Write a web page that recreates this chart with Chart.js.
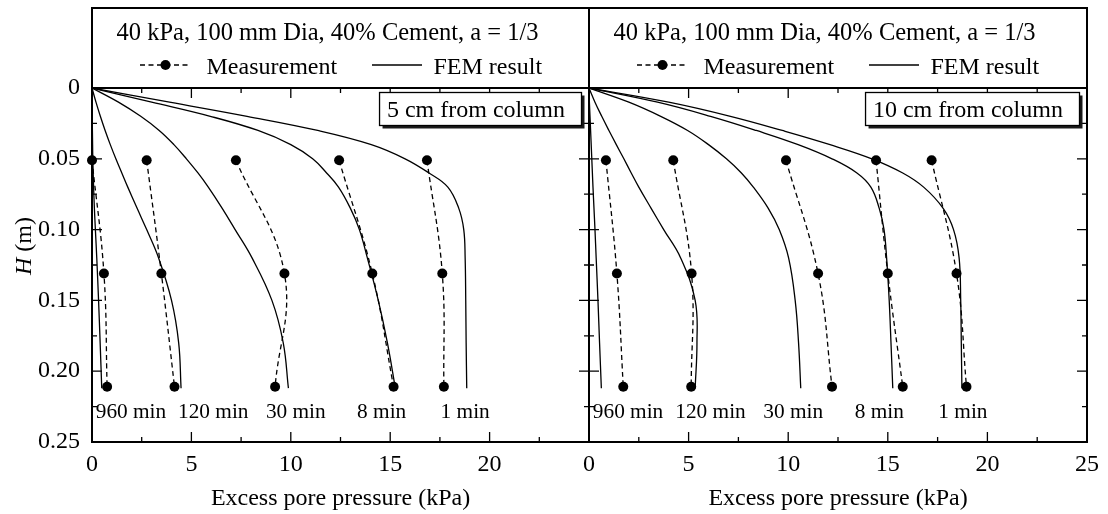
<!DOCTYPE html>
<html>
<head>
<meta charset="utf-8">
<title>Excess pore pressure profiles</title>
<script src="https://cdn.jsdelivr.net/npm/chart.js@4.4.1/dist/chart.umd.min.js"></script>
<style>
  body { margin: 0; background: #fff; }
  #wrap { position: relative; width: 1108px; height: 514px; }
  #wrap canvas { position: absolute; left: 0; top: 0; }
</style>
</head>
<body>
<div id="wrap">
  <canvas id="chart5" width="1108" height="514"></canvas>
  <canvas id="chart10" width="1108" height="514"></canvas>
</div>
<script>
// depths (m) of the three pore pressure gauges
var gaugeDepth = [0.051, 0.131, 0.211];
// depths (m) where the FEM profiles are listed
var femDepth = [0, 0.01, 0.02, 0.03, 0.04, 0.05, 0.06, 0.07, 0.085, 0.1, 0.12, 0.15, 0.18, 0.212];

var xTicks = [0, 5, 10, 15, 20, 25];
var yTicks = [0, 0.05, 0.10, 0.15, 0.20, 0.25];

var timeLabels = ['960 min', '120 min', '30 min', '8 min', '1 min'];
var timeLabelX = [1.96, 6.1, 10.25, 14.57, 18.77];
var timeLabelDepth = 0.2327;

// 5 cm from column: measured (kPa) at gaugeDepth
var meas5_960 = [0.0, 0.6, 0.76];
var meas5_120 = [2.75, 3.49, 4.15];
var meas5_30 = [7.24, 9.68, 9.21];
var meas5_8 = [12.43, 14.1, 15.17];
var meas5_1 = [16.85, 17.62, 17.7];

// 5 cm from column: FEM (kPa) at femDepth
var fem5_960 = [0, 0.0, 0.01, 0.02, 0.03, 0.04, 0.06, 0.08, 0.12, 0.17, 0.24, 0.33, 0.41, 0.49];
var fem5_120 = [0, 0.2, 0.42, 0.66, 0.92, 1.2, 1.5, 1.8, 2.27, 2.75, 3.35, 4.0, 4.36, 4.48];
var fem5_30 = [0, 1.33, 2.45, 3.38, 4.12, 4.75, 5.33, 5.85, 6.55, 7.2, 8.05, 9.05, 9.62, 9.88];
var fem5_8 = [0, 3.0, 5.95, 8.35, 10.0, 11.1, 11.8, 12.4, 13.0, 13.45, 13.85, 14.4, 14.86, 15.26];
var fem5_1 = [0, 3.9, 7.8, 11.35, 14.05, 15.75, 16.95, 17.9, 18.45, 18.7, 18.77, 18.8, 18.82, 18.85];

// 10 cm from column: measured (kPa)
var meas10_960 = [0.85, 1.4, 1.72];
var meas10_120 = [4.23, 5.15, 5.13];
var meas10_30 = [9.89, 11.5, 12.2];
var meas10_8 = [14.41, 15.0, 15.75];
var meas10_1 = [17.2, 18.45, 18.95];

// 10 cm from column: FEM (kPa)
var fem10_960 = [0, 0.02, 0.05, 0.08, 0.11, 0.14, 0.17, 0.2, 0.25, 0.3, 0.36, 0.45, 0.53, 0.62];
var fem10_120 = [0, 0.3, 0.64, 1.0, 1.37, 1.75, 2.12, 2.5, 3.12, 3.75, 4.6, 5.33, 5.42, 5.33];
var fem10_30 = [0, 2.0, 3.6, 4.95, 6.0, 6.9, 7.65, 8.25, 9.0, 9.55, 10.02, 10.35, 10.52, 10.63];
var fem10_8 = [0, 3.44, 6.1, 8.4, 10.5, 12.2, 13.45, 14.15, 14.57, 14.81, 14.94, 15.07, 15.16, 15.25];
var fem10_1 = [0, 4.0, 7.1, 9.7, 12.1, 14.2, 15.75, 16.8, 17.78, 18.3, 18.58, 18.66, 18.69, 18.72];

var serif = "'Liberation Serif', 'Times New Roman', serif";
var font24 = '24px ' + serif;

function profile(values, depths) {
    return values.map(function (v, i) { return { x: v, y: depths[i] }; });
}

function buildDatasets(meas, fem) {
    var sets = [];
    fem.forEach(function (vals) {
        sets.push({
            data: profile(vals, femDepth),
            showLine: true,
            borderColor: '#000',
            borderWidth: 1.3,
            pointRadius: 0,
            tension: 0.4
        });
    });
    meas.forEach(function (vals) {
        sets.push({
            data: profile(vals, gaugeDepth),
            showLine: true,
            borderColor: '#000',
            borderWidth: 1.3,
            borderDash: [5, 3.5],
            pointRadius: 5,
            pointBackgroundColor: '#000',
            pointBorderWidth: 0,
            tension: 0.4,
            clip: false
        });
    });
    return sets;
}

// frame, inward ticks, header box, tag box and curve labels
var panelDecor = {
    id: 'panelDecor',
    afterDatasetsDraw: function (chart, args, opts) {
        var ctx = chart.ctx, a = chart.chartArea;
        var xs = chart.scales.x, ys = chart.scales.y;
        var w = a.right - a.left;
        ctx.save();
        ctx.strokeStyle = '#000';
        ctx.fillStyle = '#000';

        // ticks every half step, long ones on the labelled values
        ctx.lineWidth = 1.3;
        ctx.setLineDash([]);
        ctx.beginPath();
        for (var i = 0; i <= 10; i++) {
            var px = xs.getPixelForValue(i * 2.5), lx = i % 2 === 0 ? 10 : 5;
            ctx.moveTo(px, a.bottom); ctx.lineTo(px, a.bottom - lx);
            ctx.moveTo(px, a.top); ctx.lineTo(px, a.top + lx);
        }
        for (var j = 0; j <= 10; j++) {
            var py = ys.getPixelForValue(j * 0.025), ly = j % 2 === 0 ? 10 : 5;
            ctx.moveTo(a.left, py); ctx.lineTo(a.left + ly, py);
            ctx.moveTo(a.right, py); ctx.lineTo(a.right - ly, py);
        }
        ctx.stroke();

        // plot frame and header box above it
        ctx.lineWidth = 2;
        ctx.strokeRect(a.left, a.top, w, a.bottom - a.top);
        ctx.strokeRect(a.left, 8, w, a.top - 8);

        ctx.textBaseline = 'alphabetic';
        ctx.textAlign = 'left';
        ctx.font = '24.5px ' + serif;
        ctx.fillText('40 kPa, 100 mm Dia, 40% Cement, a = 1/3', a.left + 24.5, 39.5);
        ctx.font = font24;

        // legend row
        ctx.lineWidth = 1.3;
        ctx.setLineDash([5, 3.5]);
        ctx.beginPath();
        ctx.moveTo(a.left + 48, 65); ctx.lineTo(a.left + 98, 65);
        ctx.stroke();
        ctx.setLineDash([]);
        ctx.beginPath();
        ctx.arc(a.left + 73.5, 65, 5, 0, Math.PI * 2);
        ctx.fill();
        ctx.fillText('Measurement', a.left + 114.5, 73.5);
        ctx.beginPath();
        ctx.moveTo(a.left + 280, 65); ctx.lineTo(a.left + 330, 65);
        ctx.stroke();
        ctx.fillText('FEM result', a.left + 341.5, 73.5);

        // distance tag with drop shadow
        var tw = ctx.measureText(opts.tag).width;
        var bw = tw + 24, bh = 33;
        var bx = a.right - 7.5 - bw, by = a.top + 4.5;
        ctx.fillStyle = '#1a1a1a';
        ctx.fillRect(bx + 3, by + 3, bw, bh);
        ctx.fillStyle = '#fff';
        ctx.fillRect(bx, by, bw, bh);
        ctx.strokeRect(bx, by, bw, bh);
        ctx.fillStyle = '#000';
        ctx.fillText(opts.tag, bx + 7.4, by + 24.4);

        // elapsed time under each profile
        ctx.font = '21.3px ' + serif;
        ctx.textAlign = 'center';
        var ty = ys.getPixelForValue(timeLabelDepth);
        timeLabels.forEach(function (t, k) {
            ctx.fillText(t, xs.getPixelForValue(timeLabelX[k]), ty);
        });

        // vertical axis title with italic H
        if (opts.yTitle) {
            ctx.save();
            ctx.translate(31, 275);
            ctx.rotate(-Math.PI / 2);
            ctx.textAlign = 'left';
            ctx.font = 'italic ' + font24;
            ctx.fillText('H', 0, 0);
            var hw = ctx.measureText('H').width;
            ctx.font = font24;
            ctx.fillText(' (m)', hw, 0);
            ctx.restore();
        }
        ctx.restore();
    }
};

function makeChart(id, meas, fem, cfg) {
    return new Chart(document.getElementById(id), {
        type: 'scatter',
        data: { datasets: buildDatasets(meas, fem) },
        plugins: [panelDecor],
        options: {
            responsive: false,
            animation: false,
            devicePixelRatio: 1,
            layout: { padding: cfg.padding },
            events: [],
            scales: {
                x: {
                    type: 'linear',
                    min: xTicks[0],
                    max: xTicks[xTicks.length - 1],
                    grid: { display: false, drawTicks: false },
                    border: { display: false },
                    ticks: {
                        stepSize: 5,
                        color: '#000',
                        font: { family: serif, size: 24 },
                        padding: 8,
                        maxRotation: 0,
                        callback: function (v) {
                            if (xTicks.indexOf(v) < 0 || (cfg.hideLastX && v === 25)) return '';
                            return String(v);
                        }
                    },
                    title: {
                        display: true,
                        text: 'Excess pore pressure (kPa)',
                        color: '#000',
                        font: { family: serif, size: 24 },
                        padding: { top: 0, bottom: 1 }
                    },
                    afterFit: function (s) { s.height = 72; }
                },
                y: {
                    type: 'linear',
                    reverse: true,
                    display: cfg.showY,
                    min: yTicks[0],
                    max: yTicks[yTicks.length - 1],
                    grid: { display: false, drawTicks: false },
                    border: { display: false },
                    ticks: {
                        stepSize: 0.05,
                        color: '#000',
                        font: { family: serif, size: 24 },
                        padding: 12,
                        callback: function (v) { return v === 0 ? '0' : v.toFixed(2); }
                    },
                    afterFit: function (s) { s.width = cfg.showY ? 92 : 0; }
                }
            },
            plugins: {
                legend: { display: false },
                tooltip: { enabled: false },
                panelDecor: { tag: cfg.tag, yTitle: cfg.showY }
            }
        }
    });
}

makeChart('chart5',
    [meas5_960, meas5_120, meas5_30, meas5_8, meas5_1],
    [fem5_960, fem5_120, fem5_30, fem5_8, fem5_1],
    { tag: '5 cm from column', showY: true, hideLastX: true,
      padding: { left: 0, right: 519, top: 88, bottom: 0 } });

makeChart('chart10',
    [meas10_960, meas10_120, meas10_30, meas10_8, meas10_1],
    [fem10_960, fem10_120, fem10_30, fem10_8, fem10_1],
    { tag: '10 cm from column', showY: false, hideLastX: false,
      padding: { left: 589, right: 21, top: 88, bottom: 0 } });
</script>
</body>
</html>
